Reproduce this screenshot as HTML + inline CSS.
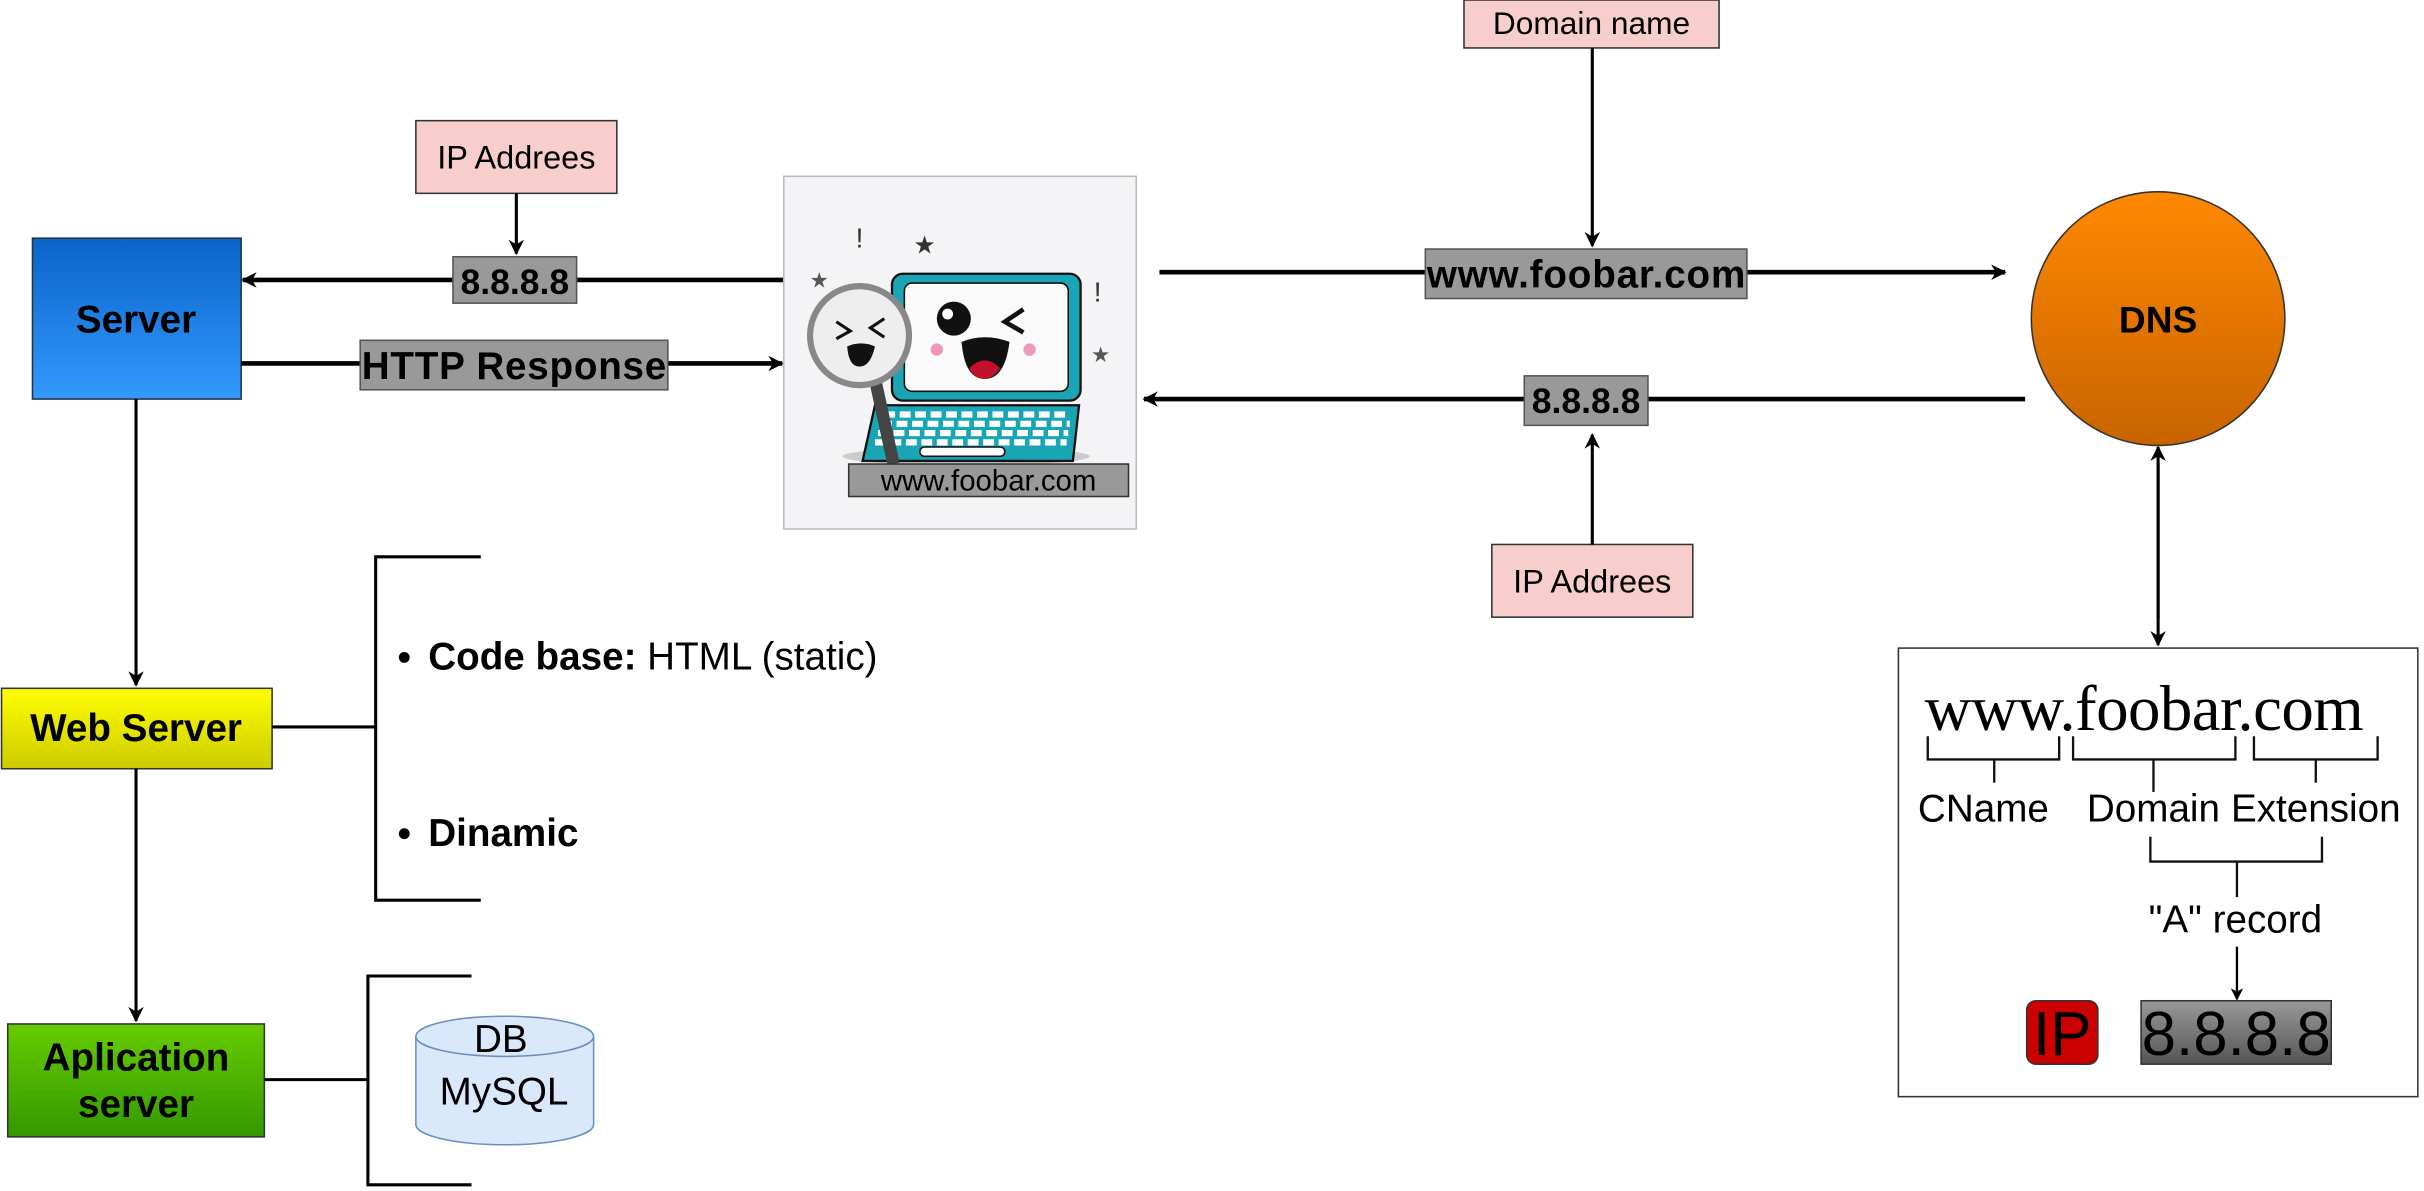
<!DOCTYPE html>
<html><head><meta charset="utf-8"><style>
html,body{margin:0;padding:0;background:#fff;}
svg{display:block;font-family:"Liberation Sans",sans-serif;}
</style></head><body>
<svg width="2424" height="1191" viewBox="0 0 1568 770" preserveAspectRatio="none" xmlns="http://www.w3.org/2000/svg">
<defs>
<linearGradient id="gb" x1="0" y1="0" x2="0" y2="1"><stop offset="0" stop-color="#0a64c8"/><stop offset="1" stop-color="#3399ff"/></linearGradient>
<linearGradient id="gy" x1="0" y1="0" x2="0" y2="1"><stop offset="0" stop-color="#ffff00"/><stop offset="1" stop-color="#cccc00"/></linearGradient>
<linearGradient id="gg" x1="0" y1="0" x2="0" y2="1"><stop offset="0" stop-color="#66cc00"/><stop offset="1" stop-color="#339900"/></linearGradient>
<linearGradient id="go" x1="0" y1="0" x2="0" y2="1"><stop offset="0" stop-color="#ff8800"/><stop offset="1" stop-color="#c86400"/></linearGradient>
<linearGradient id="gk" x1="0" y1="0" x2="0" y2="1"><stop offset="0" stop-color="#999"/><stop offset="1" stop-color="#555"/></linearGradient>
<marker id="a" markerWidth="10" markerHeight="10" refX="9" refY="5" orient="auto" markerUnits="userSpaceOnUse"><path d="M0,0 L10,5 L0,10 L3,5 z" fill="#000"/></marker>
<marker id="as" markerWidth="8" markerHeight="8" refX="7" refY="4" orient="auto" markerUnits="userSpaceOnUse"><path d="M0,0 L8,4 L0,8 L2,4 z" fill="#000"/></marker>
</defs>

<rect x="947" y="0" width="165" height="31" fill="#f8cecc" stroke="#333"/>
<text x="1029.5" y="22" font-size="20.5" text-anchor="middle">Domain name</text>
<line x1="1030" y1="31" x2="1030" y2="159" stroke="#000" stroke-width="2" marker-end="url(#a)"/>

<rect x="269" y="78" width="130" height="47" fill="#f8cecc" stroke="#333"/>
<text x="334" y="109" font-size="21" text-anchor="middle">IP Addrees</text>
<line x1="334" y1="125" x2="334" y2="164" stroke="#000" stroke-width="2" marker-end="url(#a)"/>

<rect x="21" y="154" width="135" height="104" fill="url(#gb)" stroke="#234"/>
<text x="88" y="215" font-size="25" font-weight="bold" text-anchor="middle">Server</text>

<line x1="507" y1="181" x2="157" y2="181" stroke="#000" stroke-width="3" marker-end="url(#a)"/>
<rect x="293" y="166" width="80" height="30" fill="#999" stroke="#555"/>
<text x="333" y="190" font-size="23" font-weight="bold" text-anchor="middle">8.8.8.8</text>

<line x1="156" y1="235" x2="506" y2="235" stroke="#000" stroke-width="3" marker-end="url(#a)"/>
<rect x="233" y="220" width="199" height="32" fill="#999" stroke="#555"/>
<text x="332.5" y="245" font-size="25" font-weight="bold" text-anchor="middle" textLength="197">HTTP Response</text>

<rect x="507" y="114" width="228" height="228" fill="#f4f4f6" stroke="#bbb"/>
<ellipse cx="625" cy="295" rx="80" ry="6" fill="#ccc"/>
<rect x="577" y="177" width="122" height="82" rx="7" fill="#1aa5b5" stroke="#111" stroke-width="1.5"/>
<rect x="585" y="183" width="106" height="70" rx="5" fill="#fafafa" stroke="#111"/>
<path d="M566,262 L698,262 L694,298 L558,298 Z" fill="#1aa5b5" stroke="#111" stroke-width="1.5"/>
<g stroke="#fff" stroke-width="4" stroke-dasharray="7,3">
<line x1="572" y1="268" x2="692" y2="268"/><line x1="570" y1="274" x2="692" y2="274"/><line x1="568" y1="280" x2="691" y2="280"/><line x1="566" y1="286" x2="690" y2="286"/>
</g>
<rect x="595" y="289" width="55" height="6" rx="3" fill="#fff" stroke="#111"/>
<circle cx="617" cy="206" r="11" fill="#111"/><circle cx="613" cy="203" r="3.5" fill="#fff"/>
<path d="M662,200 L650,208 L662,215" fill="none" stroke="#111" stroke-width="3"/>
<path d="M622,221 Q637,215 653,221 Q650,245 637,245 Q624,245 622,221 Z" fill="#111"/>
<path d="M627,238 Q637,228 647,238 Q642,245 637,245 Q630,245 627,238Z" fill="#c0102a"/>
<circle cx="606" cy="226" r="4" fill="#ee99bb"/><circle cx="666" cy="226" r="4" fill="#ee99bb"/>
<path d="M566,245 L578,300" stroke="#444" stroke-width="8"/>
<circle cx="556" cy="217" r="32" fill="#eee" stroke="#888" stroke-width="4"/>
<path d="M541,208 L550,214 L541,219 M572,206 L563,212 L572,218" fill="none" stroke="#111" stroke-width="2"/>
<path d="M548,224 Q557,220 566,224 Q563,237 556,237 Q549,237 548,224Z" fill="#111"/>
<text x="556" y="160" font-size="18" text-anchor="middle" fill="#333">!</text>
<text x="710" y="195" font-size="18" text-anchor="middle" fill="#333">!</text>
<text x="598" y="164" font-size="16" text-anchor="middle" fill="#333">★</text>
<text x="530" y="186" font-size="14" text-anchor="middle" fill="#555">★</text>
<text x="712" y="234" font-size="14" text-anchor="middle" fill="#555">★</text>
<rect x="549" y="300" width="181" height="21" fill="#999" stroke="#333"/>
<text x="639.5" y="317" font-size="19" text-anchor="middle">www.foobar.com</text>

<line x1="750" y1="176" x2="1297" y2="176" stroke="#000" stroke-width="3" marker-end="url(#a)"/>
<rect x="922" y="161" width="208" height="32" fill="#999" stroke="#555"/>
<text x="1026" y="186" font-size="25" font-weight="bold" text-anchor="middle" textLength="206">www.foobar.com</text>

<circle cx="1396" cy="206" r="82" fill="url(#go)" stroke="#333"/>
<text x="1396" y="215" font-size="24" font-weight="bold" text-anchor="middle">DNS</text>

<line x1="1310" y1="258" x2="740" y2="258" stroke="#000" stroke-width="3" marker-end="url(#a)"/>
<rect x="986" y="243" width="80" height="32" fill="#999" stroke="#555"/>
<text x="1026" y="267" font-size="23" font-weight="bold" text-anchor="middle">8.8.8.8</text>

<rect x="965" y="352" width="130" height="47" fill="#f8cecc" stroke="#333"/>
<text x="1030" y="383" font-size="21" text-anchor="middle">IP Addrees</text>
<line x1="1030" y1="352" x2="1030" y2="281" stroke="#000" stroke-width="2" marker-end="url(#a)"/>

<line x1="1396" y1="300" x2="1396" y2="417" stroke="#000" stroke-width="2" marker-end="url(#a)"/>
<line x1="1396" y1="400" x2="1396" y2="289" stroke="#000" stroke-width="2" marker-end="url(#a)"/>

<rect x="1228" y="419" width="336" height="290" fill="#fff" stroke="#333"/>
<text x="1387" y="472" font-size="42" font-family="Liberation Serif,serif" text-anchor="middle" textLength="284">www.foobar.com</text>
<g fill="none" stroke="#111" stroke-width="1.5">
<path d="M1247,476 V491 H1332 V476"/><line x1="1290" y1="491" x2="1290" y2="506"/>
<path d="M1341,476 V491 H1446 V476"/><line x1="1393" y1="491" x2="1393" y2="512"/>
<path d="M1458,476 V491 H1538 V476"/><line x1="1498" y1="491" x2="1498" y2="506"/>
<path d="M1391,541 V557 H1502 V541"/><line x1="1447" y1="557" x2="1447" y2="580"/>
</g>
<text x="1283" y="531" font-size="25" text-anchor="middle">CName</text>
<text x="1393" y="531" font-size="25" text-anchor="middle">Domain</text>
<text x="1498" y="531" font-size="25" text-anchor="middle">Extension</text>
<text x="1446" y="603" font-size="25" text-anchor="middle">"A" record</text>
<line x1="1447" y1="612" x2="1447" y2="646" stroke="#000" stroke-width="1.5" marker-end="url(#as)"/>
<rect x="1311" y="647" width="46" height="41" rx="6" fill="#cc0000" stroke="#333"/>
<text x="1334" y="682" font-size="40" text-anchor="middle">IP</text>
<rect x="1385" y="647" width="123" height="41" fill="url(#gk)" stroke="#333"/>
<text x="1446.5" y="682" font-size="40" text-anchor="middle">8.8.8.8</text>

<line x1="88" y1="258" x2="88" y2="443" stroke="#000" stroke-width="2" marker-end="url(#a)"/>
<rect x="1" y="445" width="175" height="52" fill="url(#gy)" stroke="#333"/>
<text x="88" y="479" font-size="25" font-weight="bold" text-anchor="middle">Web Server</text>
<line x1="88" y1="497" x2="88" y2="660" stroke="#000" stroke-width="2" marker-end="url(#a)"/>
<rect x="5" y="662" width="166" height="73" fill="url(#gg)" stroke="#333"/>
<text x="88" y="692" font-size="25" font-weight="bold" text-anchor="middle">Aplication</text>
<text x="88" y="722" font-size="25" font-weight="bold" text-anchor="middle">server</text>

<g fill="none" stroke="#000" stroke-width="2">
<line x1="176" y1="470" x2="243" y2="470"/>
<path d="M311,360 H243 V582 H311"/>
<line x1="171" y1="698" x2="238" y2="698"/>
<path d="M305,631 H238 V766 H305"/>
</g>
<circle cx="261.5" cy="425" r="3.5" fill="#000"/>
<text x="277" y="433" font-size="25"><tspan font-weight="bold">Code base:</tspan> HTML (static)</text>
<circle cx="261.5" cy="539" r="3.5" fill="#000"/>
<text x="277" y="547" font-size="25" font-weight="bold">Dinamic</text>

<path d="M269,670 V727 A57,13 0 0 0 384,727 V670" fill="#dae8fc" stroke="#6c8ebf"/>
<ellipse cx="326.5" cy="670" rx="57.5" ry="13" fill="#dae8fc" stroke="#6c8ebf"/>
<text x="324" y="680" font-size="25" text-anchor="middle">DB</text>
<text x="326" y="714" font-size="25" text-anchor="middle">MySQL</text>
</svg>
</body></html>
